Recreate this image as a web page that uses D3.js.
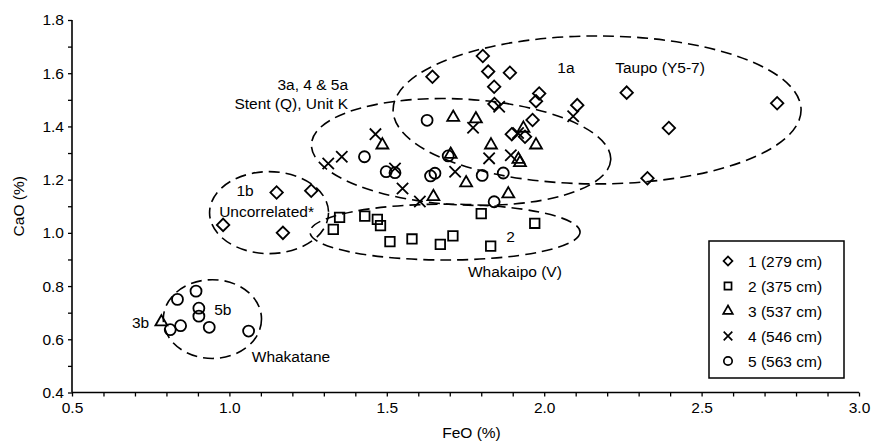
<!DOCTYPE html>
<html>
<head>
<meta charset="utf-8">
<script src="https://cdn.jsdelivr.net/npm/d3@7"></script>
<style>
  html, body { margin: 0; padding: 0; background: #fff; }
  svg { display: block; font-family: "Liberation Sans", Arial, Helvetica, sans-serif; }
</style>
</head>
<body>
<svg id="chart" width="872" height="443"></svg>
<script>
// ---------- data ----------
const seriesNames = ["1 (279 cm)", "2 (375 cm)", "3 (537 cm)", "4 (546 cm)", "5 (563 cm)"];

const s1FeO = [0.98, 1.17, 1.15, 1.26, 1.645, 1.805, 1.822, 1.891, 1.841, 1.842, 1.984, 1.974, 1.963, 1.897, 1.939, 2.105, 2.262, 2.396, 2.740, 2.328];
const s1CaO = [1.03, 1.00, 1.152, 1.158, 1.587, 1.665, 1.606, 1.602, 1.549, 1.484, 1.524, 1.495, 1.424, 1.371, 1.361, 1.480, 1.527, 1.394, 1.487, 1.205];

const s2FeO = [1.33, 1.35, 1.43, 1.47, 1.48, 1.51, 1.58, 1.67, 1.71, 1.80, 1.83, 1.97];
const s2CaO = [1.013, 1.058, 1.063, 1.051, 1.027, 0.967, 0.977, 0.957, 0.989, 1.072, 0.950, 1.036];

const s3FeO = [0.784, 1.711, 1.783, 1.486, 1.831, 1.974, 1.934, 1.918, 1.923, 1.703, 1.752, 1.648, 1.886];
const s3CaO = [0.665, 1.434, 1.428, 1.330, 1.330, 1.330, 1.393, 1.276, 1.264, 1.295, 1.188, 1.136, 1.146];

const s4FeO = [1.314, 1.357, 1.464, 1.526, 1.550, 1.605, 1.717, 1.774, 1.857, 1.825, 1.894, 1.917, 2.092];
const s4CaO = [1.261, 1.286, 1.371, 1.242, 1.167, 1.118, 1.230, 1.395, 1.474, 1.280, 1.292, 1.375, 1.438];

const s5FeO = [0.835, 0.894, 0.903, 0.903, 0.845, 0.812, 0.936, 1.061, 1.429, 1.498, 1.526, 1.628, 1.639, 1.653, 1.695, 1.803, 1.870, 1.841];
const s5CaO = [0.750, 0.781, 0.717, 0.687, 0.651, 0.636, 0.645, 0.631, 1.286, 1.230, 1.226, 1.423, 1.214, 1.224, 1.289, 1.216, 1.225, 1.117];

// dashed group outlines (data units): centre, radii, tilt (deg)
const groupCx  = [2.168, 1.736, 1.685, 1.126, 0.946];
const groupCy  = [1.462, 1.304, 1.003, 1.076, 0.676];
const groupRx  = [0.648, 0.476, 0.429, 0.189, 0.156];
const groupRy  = [0.278, 0.199, 0.105, 0.154, 0.148];
const groupRot = [0, 3, 0, 0, 0];

// annotation labels
const labelText = ["1a", "Taupo (Y5-7)", "3a, 4 & 5a", "Stent (Q), Unit K", "1b", "Uncorrelated*", "2", "Whakaipo (V)", "5b", "3b", "Whakatane"];
const labelFeO  = [2.069, 2.368, 1.377, 1.377, 1.050, 1.118, 1.893, 1.907, 0.979, 0.718, 1.071];
const labelCaO  = [1.623, 1.620, 1.556, 1.487, 1.161, 1.082, 0.985, 0.854, 0.712, 0.664, 0.536];
const labelAnchor = ["middle", "middle", "end", "end", "middle", "middle", "middle", "middle", "middle", "middle", "start"];

const xMajor = [0.5, 1.0, 1.5, 2.0, 2.5, 3.0];
const yMajor = [0.4, 0.6, 0.8, 1.0, 1.2, 1.4, 1.6, 1.8];

// ---------- chart ----------
const svg = d3.select("#chart");
const x = d3.scaleLinear().domain([0.5, 3.0]).range([72, 859]);
const y = d3.scaleLinear().domain([0.4, 1.8]).range([392.5, 20]);
const fontSize = 15.5;

// axes
const xMinor = d3.range(5, 31).map(d => d / 10);
const yMinor = d3.range(4, 19).map(d => d / 10);

const xAxis = d3.axisBottom(x).tickValues(xMinor).tickSize(4).tickFormat(d => xMajor.some(m => Math.abs(m - d) < 1e-9) ? d3.format(".1f")(d) : "").tickPadding(5);
const yAxis = d3.axisLeft(y).tickValues(yMinor).tickSize(4).tickFormat(d => yMajor.some(m => Math.abs(m - d) < 1e-9) ? d3.format(".1f")(d) : "").tickPadding(4);

const gx = svg.append("g").attr("transform", `translate(0,${y(0.4)})`).call(xAxis);
const gy = svg.append("g").attr("transform", `translate(${x(0.5)},0)`).call(yAxis);
[gx, gy].forEach(g => {
  g.select(".domain").attr("stroke", "#000").attr("stroke-width", 1.6);
  g.selectAll(".tick line").attr("stroke", "#000").attr("stroke-width", 1.3);
  g.selectAll(".tick text").attr("fill", "#000").style("font-size", fontSize + "px").style("font-family", "'Liberation Sans', Arial, sans-serif");
});
gy.select(".domain").attr("d", `M0,${y(0.4)}V${y(1.8)}`);
gx.select(".domain").attr("d", `M${x(0.5)},0H${x(3.0)}`);

// axis titles
svg.append("text").attr("x", (x(0.5) + x(3.0)) / 2 + 6).attr("y", 438)
  .attr("text-anchor", "middle").style("font-size", fontSize + "px").text("FeO (%)");
svg.append("text").attr("transform", `translate(24,${(y(0.4) + y(1.8)) / 2}) rotate(-90)`)
  .attr("text-anchor", "middle").style("font-size", fontSize + "px").text("CaO (%)");

// dashed ellipses
const ellipses = groupCx.map((cx, i) => ({cx, cy: groupCy[i], rx: groupRx[i], ry: groupRy[i], rot: groupRot[i]}));
svg.append("g").selectAll("ellipse").data(ellipses).join("ellipse")
  .attr("cx", d => x(d.cx)).attr("cy", d => y(d.cy))
  .attr("rx", d => x(d.cx + d.rx) - x(d.cx))
  .attr("ry", d => y(d.cy) - y(d.cy + d.ry))
  .attr("transform", d => `rotate(${d.rot},${x(d.cx)},${y(d.cy)})`)
  .attr("fill", "none").attr("stroke", "#000").attr("stroke-width", 1.6)
  .attr("stroke-dasharray", "11,6");

// markers
const symTypes = [d3.symbolSquare, d3.symbolSquare, d3.symbolTriangle, d3.symbolTimes, d3.symbolCircle];
const symSizes = [78, 90, 62, 85, 95];
const symRot = [45, 0, 0, 0, 0];
const seriesData = [[s1FeO, s1CaO], [s2FeO, s2CaO], [s3FeO, s3CaO], [s4FeO, s4CaO], [s5FeO, s5CaO]];

seriesData.forEach(([fe, ca], si) => {
  const pts = fe.map((v, i) => ({fe: v, ca: ca[i]}));
  svg.append("g").selectAll("path").data(pts).join("path")
    .attr("d", d3.symbol().type(symTypes[si]).size(symSizes[si]))
    .attr("transform", d => `translate(${x(d.fe)},${y(d.ca)}) rotate(${symRot[si]})`)
    .attr("fill", "none").attr("stroke", "#000").attr("stroke-width", 1.8);
});

// annotation labels
labelText.forEach((t, i) => {
  svg.append("text").attr("x", x(labelFeO[i])).attr("y", y(labelCaO[i]))
    .attr("text-anchor", labelAnchor[i]).attr("dominant-baseline", "central")
    .style("font-size", fontSize + "px").text(t);
});

// legend
const lg = svg.append("g");
const lx = 709, ly = 241, lw = 135, lh = 137;
lg.append("rect").attr("x", lx).attr("y", ly).attr("width", lw).attr("height", lh)
  .attr("fill", "#fff").attr("stroke", "#000").attr("stroke-width", 1.5);
const legSizes = [40, 50, 40, 50, 55];
seriesNames.forEach((n, i) => {
  const cy = ly + 20 + i * 25;
  lg.append("path").attr("d", d3.symbol().type(symTypes[i]).size(legSizes[i]))
    .attr("transform", `translate(${lx + 19},${cy}) rotate(${symRot[i]})`)
    .attr("fill", "none").attr("stroke", "#000").attr("stroke-width", 1.7);
  lg.append("text").attr("x", lx + 39).attr("y", cy).attr("dominant-baseline", "central")
    .style("font-size", fontSize + "px").text(n);
});
</script>
</body>
</html>
